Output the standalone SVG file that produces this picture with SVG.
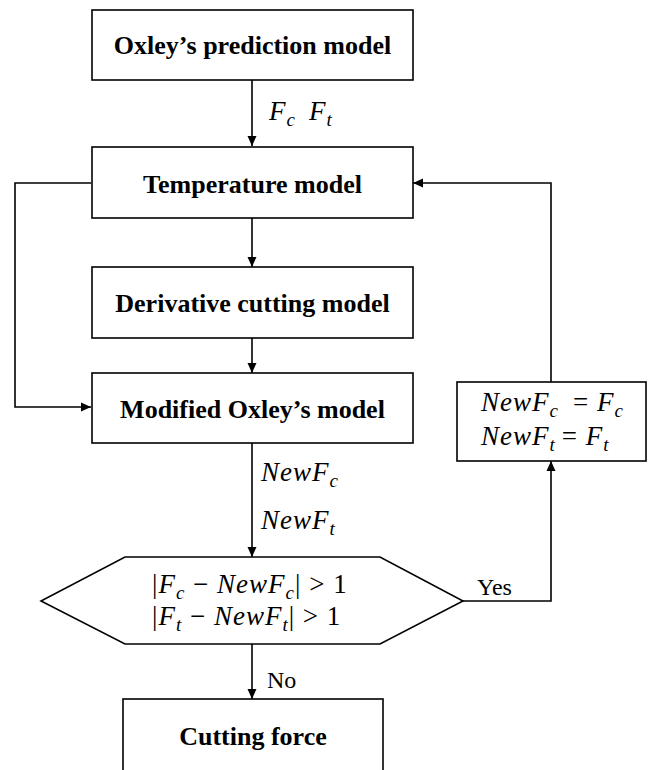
<svg xmlns="http://www.w3.org/2000/svg" width="649" height="770" viewBox="0 0 649 770">
<style>
.box{fill:#fff;stroke:#000;stroke-width:1.6}
.t{font-family:"Liberation Serif","Times New Roman",serif;font-weight:bold;font-size:26px;text-anchor:middle;fill:#000}
.m{font-family:"Liberation Serif","Times New Roman",serif;font-style:italic;font-size:27px;letter-spacing:1px;fill:#000}
.r{font-style:normal}
.s{font-size:19px}
.lbl{font-family:"Liberation Serif","Times New Roman",serif;font-size:24px;fill:#000}
.c{fill:none;stroke:#000;stroke-width:1.6}
</style>
<defs>
<marker id="ah" viewBox="0 0 10 10" refX="10" refY="5" markerWidth="10" markerHeight="10" markerUnits="userSpaceOnUse" orient="auto">
<path d="M0,0.5 L10,5 L0,9.5 z" fill="#000"/>
</marker>
</defs>
<rect width="649" height="770" fill="#fff"/>
<g id="connectors">
<line class="c" x1="252" y1="80" x2="252" y2="146" marker-end="url(#ah)"/>
<line class="c" x1="252" y1="218" x2="252" y2="267" marker-end="url(#ah)"/>
<line class="c" x1="252" y1="338" x2="252" y2="373" marker-end="url(#ah)"/>
<polyline class="c" points="91,183 15,183 15,407 91,407" marker-end="url(#ah)"/>
<line class="c" x1="252" y1="443" x2="252" y2="557" marker-end="url(#ah)"/>
<polyline class="c" points="463,601 551,601 551,461" marker-end="url(#ah)"/>
<polyline class="c" points="551,382 551,183 413,183" marker-end="url(#ah)"/>
<line class="c" x1="252" y1="644" x2="252" y2="699" marker-end="url(#ah)"/>
<text class="m" x="269" y="120">F<tspan class="s" dy="6">c</tspan><tspan dx="13" dy="-6">F</tspan><tspan class="s" dy="6">t</tspan></text>
<text class="m" x="261" y="481">NewF<tspan class="s" dy="6">c</tspan></text>
<text class="m" x="261" y="529">NewF<tspan class="s" dy="6">t</tspan></text>
<text class="lbl" x="477" y="595">Yes</text>
<text class="lbl" x="267" y="688">No</text>
</g>
<g id="n1">
<rect class="box" x="92" y="10" width="321" height="70"/>
<text class="t" x="252.5" y="54">Oxley’s prediction model</text>
</g>
<g id="n2">
<rect class="box" x="92" y="147" width="321" height="71"/>
<text class="t" x="252.5" y="193">Temperature model</text>
</g>
<g id="n3">
<rect class="box" x="92" y="267" width="321" height="71"/>
<text class="t" x="252.5" y="312">Derivative cutting model</text>
</g>
<g id="n4">
<rect class="box" x="92" y="373" width="321" height="70"/>
<text class="t" x="252.5" y="418">Modified Oxley’s model</text>
</g>
<g id="n5">
<rect class="box" x="457" y="382" width="189" height="79"/>
<text class="m" x="481" y="411">NewF<tspan class="s" dy="6">c</tspan><tspan class="r" dx="14" dy="-6">= </tspan>F<tspan class="s" dy="6">c</tspan></text>
<text class="m" x="481" y="445">NewF<tspan class="s" dy="6">t</tspan><tspan class="r" dx="6" dy="-6">= </tspan>F<tspan class="s" dy="6">t</tspan></text>
</g>
<g id="n6">
<polygon class="box" points="125,557 380,557 463,601 380,644 125,644 41,601"/>
<text class="m" x="152" y="593"><tspan class="r">|</tspan>F<tspan class="s" dy="6">c</tspan><tspan class="r" dy="-6"> − </tspan>NewF<tspan class="s" dy="6">c</tspan><tspan class="r" dy="-6">| &gt; 1</tspan></text>
<text class="m" x="152" y="625"><tspan class="r">|</tspan>F<tspan class="s" dy="6">t</tspan><tspan class="r" dy="-6"> − </tspan>NewF<tspan class="s" dy="6">t</tspan><tspan class="r" dy="-6">| &gt; 1</tspan></text>
</g>
<g id="n7">
<rect class="box" x="123" y="699" width="260" height="90"/>
<text class="t" x="253" y="745">Cutting force</text>
</g>
</svg>
